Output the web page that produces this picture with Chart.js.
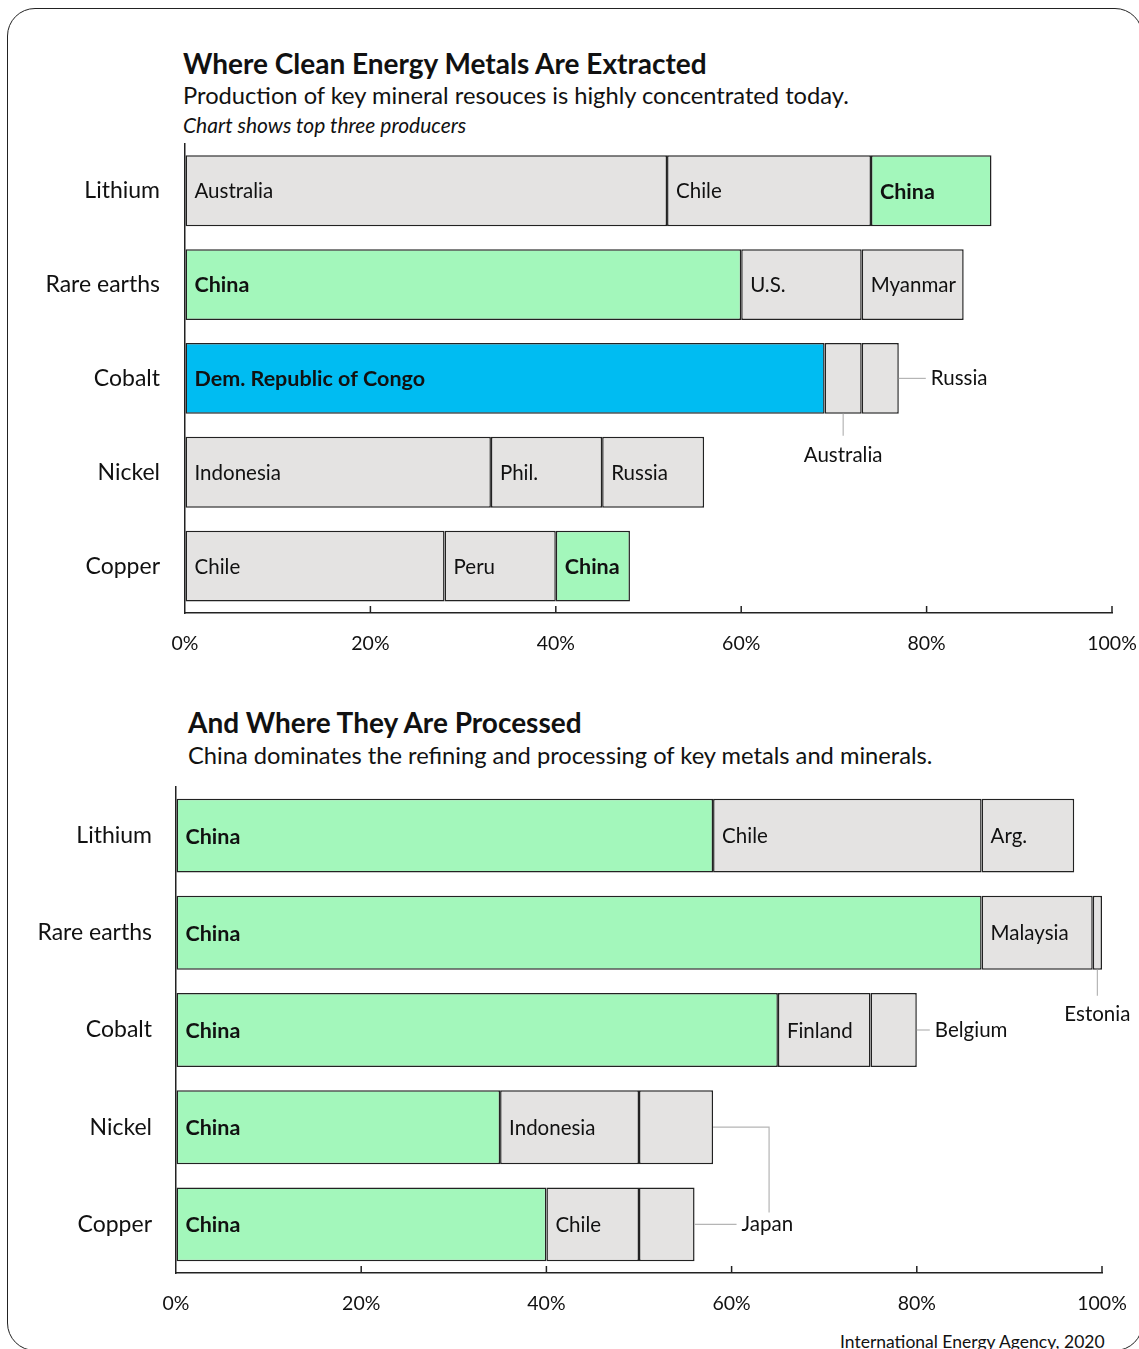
<!DOCTYPE html>
<html>
<head>
<meta charset="utf-8">
<title>Clean Energy Metals</title>
<script src="https://cdn.jsdelivr.net/npm/chart.js@4.4.0/dist/chart.umd.min.js"></script>
<style>
  html, body { margin: 0; padding: 0; background: #fff; }
  body { width: 1139px; height: 1349px; position: relative; overflow: hidden; font-family: Lato, sans-serif; color: #111; }
  .frame { position: absolute; left: 7px; top: 8px; width: 1136px; height: 1343px; border: 1.5px solid #222; border-radius: 28px; box-sizing: border-box; }
  .title { position: absolute; font-weight: 700; font-size: 28px; line-height: 1; white-space: nowrap; }
  .sub { position: absolute; font-size: 23.7px; line-height: 1; white-space: nowrap; }
  .note { position: absolute; font-size: 21px; font-style: italic; line-height: 1; white-space: nowrap; }
  .source { position: absolute; font-size: 17.5px; line-height: 1; white-space: nowrap; }
  .box { position: absolute; left: 0; width: 1139px; }
</style>
</head>
<body>
<div class="frame"></div>

<div class="title" style="left:183px; top:49px;">Where Clean Energy Metals Are Extracted</div>
<div class="sub" style="left:183px; top:84px;">Production of key mineral resouces is highly concentrated today.</div>
<div class="note" style="left:183px; top:114px;">Chart shows top three producers</div>
<div class="box" style="top:130px; height:545px;"><canvas id="extractChart"></canvas></div>

<div class="title" style="left:188px; top:708px;">And Where They Are Processed</div>
<div class="sub" style="left:188px; top:744px;">China dominates the refining and processing of key metals and minerals.</div>
<div class="box" style="top:770px; height:560px;"><canvas id="processChart"></canvas></div>

<div class="source" style="left:840px; top:1333px;">International Energy Agency, 2020</div>

<script>
// metals (same order in both charts)
const metals = ['Lithium', 'Rare earths', 'Cobalt', 'Nickel', 'Copper'];
const pctTicks = [0, 20, 40, 60, 80, 100];

// extraction: top three producers, share of world output (%)
const extFirstNames = ['Australia', 'China', 'Dem. Republic of Congo', 'Indonesia', 'Chile'];
const extFirst = [52, 60, 69, 33, 28];
const extSecondNames = ['Chile', 'U.S.', 'Australia', 'Phil.', 'Peru'];
const extSecond = [22, 13, 4, 12, 12];
const extThirdNames = ['China', 'Myanmar', 'Russia', 'Russia', 'China'];
const extThird = [13, 11, 4, 11, 8];

// processing: top three refiners (%)
const procFirstNames = ['China', 'China', 'China', 'China', 'China'];
const procFirst = [58, 87, 65, 35, 40];
const procSecondNames = ['Chile', 'Malaysia', 'Finland', 'Indonesia', 'Chile'];
const procSecond = [29, 12, 10, 15, 10];
const procThirdNames = ['Arg.', 'Estonia', 'Belgium', 'Japan', 'Japan'];
const procThird = [10, 1, 5, 8, 6];

// segments whose name sits outside the bar
const extCallouts = [
    { ds: 1, idx: 2, side: 'below', len: 22, gap: 42 },
    { ds: 2, idx: 2, side: 'right', len: 27 }
];
const procCallouts = [
    { ds: 2, idx: 1, side: 'below', len: 26, gap: 45 },
    { ds: 2, idx: 2, side: 'right', len: 13 },
    { ds: 2, idx: 3, side: 'elbow', len: 56 },
    { ds: 2, idx: 4, side: 'right', len: 42 }
];

const GREEN = '#a3f7bb';
const BLUE = '#00bcf2';
const GREY = '#e4e3e2';
const INK = '#111';
const FONT = 'Lato';
const CLEAR = 'rgba(0,0,0,0)';

function fillFor(name) {
    if (name === 'China') return GREEN;
    if (name.startsWith('Dem.')) return BLUE;
    return GREY;
}
function isBold(name) {
    return name === 'China' || name.startsWith('Dem.');
}

const segmentLabels = {
    id: 'segmentLabels',
    afterDatasetsDraw(chart, args, opts) {
        const ctx = chart.ctx;
        const callouts = opts.callouts || [];
        ctx.save();
        ctx.textBaseline = 'middle';
        opts.names.forEach((list, di) => {
            const meta = chart.getDatasetMeta(di);
            meta.data.forEach((bar, i) => {
                const p = bar.getProps(['x', 'y', 'base', 'height'], true);
                const name = list[i];
                const left = Math.min(p.base, p.x);
                const right = Math.max(p.base, p.x);
                const mid = (left + right) / 2;
                const bottom = p.y + p.height / 2;
                const co = callouts.find(c => c.ds === di && c.idx === i);
                ctx.fillStyle = INK;
                ctx.font = isBold(name) ? 'bold 21.5px ' + FONT : '20.5px ' + FONT;
                if (!co) {
                    ctx.textAlign = 'left';
                    ctx.fillText(name, left + 9, p.y + 1);
                    return;
                }
                ctx.strokeStyle = '#b5b5b5';
                ctx.lineWidth = 1.2;
                ctx.beginPath();
                if (co.side === 'below') {
                    ctx.moveTo(mid, bottom);
                    ctx.lineTo(mid, bottom + co.len);
                    ctx.stroke();
                    ctx.textAlign = 'center';
                    ctx.fillText(name, mid, bottom + co.gap);
                } else if (co.side === 'right') {
                    ctx.moveTo(right, p.y);
                    ctx.lineTo(right + co.len, p.y);
                    ctx.stroke();
                    ctx.textAlign = 'left';
                    ctx.fillText(name, right + co.len + 5, p.y);
                } else if (co.side === 'elbow') {
                    // joins the label of the next bar down
                    const next = chart.getDatasetMeta(di).data[i + 1];
                    ctx.moveTo(right, p.y);
                    ctx.lineTo(right + co.len, p.y);
                    ctx.lineTo(right + co.len, next.y - 12);
                    ctx.stroke();
                }
            });
        });
        ctx.restore();
    }
};

const upTicks = {
    id: 'upTicks',
    afterDraw(chart) {
        const ctx = chart.ctx;
        const xs = chart.scales.x;
        const yb = chart.chartArea.bottom;
        ctx.save();
        ctx.strokeStyle = '#222';
        ctx.lineWidth = 1.5;
        xs.ticks.forEach(t => {
            if (t.value === 0) return;
            const x = xs.getPixelForValue(t.value);
            ctx.beginPath();
            ctx.moveTo(x, yb);
            ctx.lineTo(x, yb - 7);
            ctx.stroke();
        });
        ctx.restore();
    }
};

function makeChart(id, names, values, callouts, box) {
    const datasets = values.map((vals, k) => ({
        label: 'rank ' + (k + 1),
        data: vals,
        backgroundColor: names[k].map(fillFor),
        borderColor: '#222',
        borderWidth: 1.5,
        borderSkipped: false,
        barPercentage: box.barPct,
        categoryPercentage: 1
    }));

    return new Chart(document.getElementById(id).getContext('2d'), {
        type: 'bar',
        data: { labels: metals, datasets },
        plugins: [segmentLabels, upTicks],
        options: {
            indexAxis: 'y',
            responsive: true,
            maintainAspectRatio: false,
            animation: false,
            layout: { padding: { top: box.top, right: box.right, left: 0, bottom: 0 } },
            plugins: {
                legend: { display: false },
                tooltip: { enabled: false },
                segmentLabels: { names, callouts }
            },
            scales: {
                x: {
                    stacked: true,
                    min: 0,
                    max: 100,
                    afterBuildTicks: s => { s.ticks = pctTicks.map(v => ({ value: v })); },
                    afterFit: s => { s.height = box.xHeight; },
                    // invisible tick marks are used as the gap under the axis
                    grid: { drawOnChartArea: false, drawTicks: true, tickLength: 19, tickColor: CLEAR },
                    border: { display: true, color: '#222', width: 1.5 },
                    ticks: {
                        padding: 0,
                        color: INK,
                        font: { family: FONT, size: 19.5 },
                        maxRotation: 0,
                        callback: v => v + '%'
                    }
                },
                y: {
                    stacked: true,
                    afterFit: s => { s.width = box.left; },
                    grid: { drawOnChartArea: false, drawTicks: true, tickLength: box.labelPad, tickColor: CLEAR },
                    border: { display: true, color: '#222', width: 1.5 },
                    ticks: {
                        padding: 0,
                        color: INK,
                        font: { family: FONT, size: 23 }
                    }
                }
            }
        }
    });
}

makeChart('extractChart',
    [extFirstNames, extSecondNames, extThirdNames],
    [extFirst, extSecond, extThird],
    extCallouts,
    { top: 13, right: 27, left: 185, xHeight: 62, labelPad: 25, barPct: 0.755 });

makeChart('processChart',
    [procFirstNames, procSecondNames, procThirdNames],
    [procFirst, procSecond, procThird],
    procCallouts,
    { top: 17, right: 37, left: 176, xHeight: 57, labelPad: 24, barPct: 0.76 });
</script>
</body>
</html>
